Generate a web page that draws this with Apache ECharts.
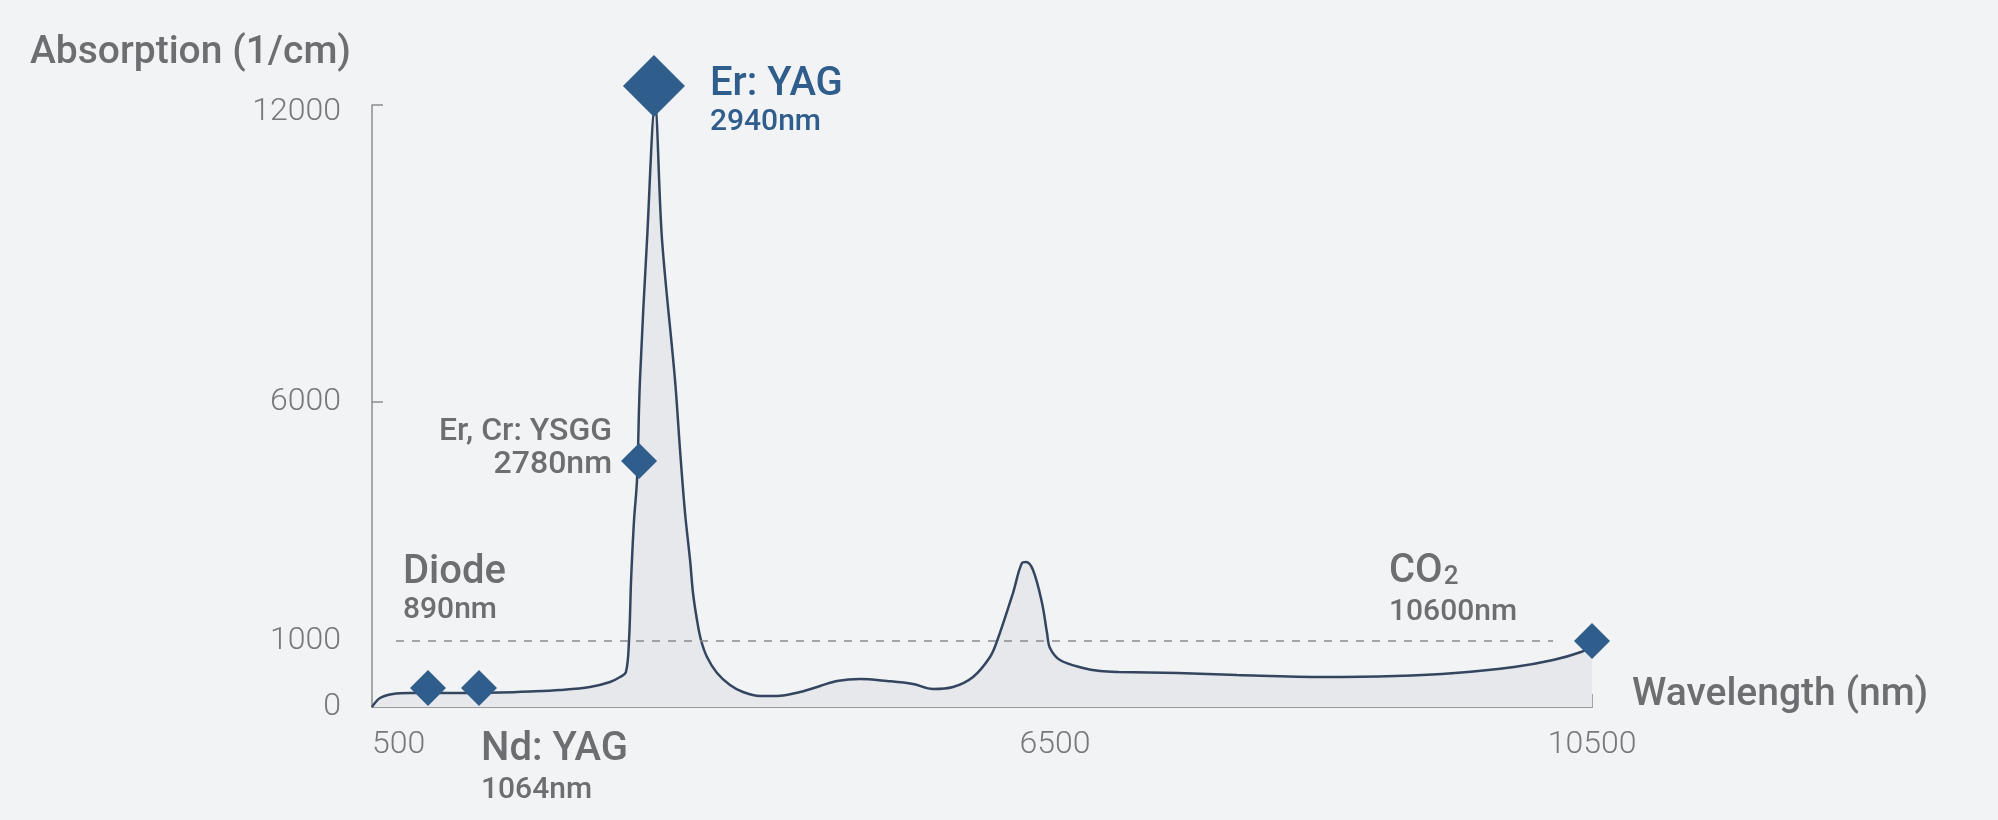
<!DOCTYPE html>
<html>
<head>
<meta charset="utf-8">
<script src="https://cdn.jsdelivr.net/npm/echarts@6/dist/echarts.min.js"></script>
<style>
html,body{margin:0;padding:0;background:#f2f3f5;}
#chart{width:1998px;height:820px;}
</style>
</head>
<body>
<div id="chart"></div>
<script>
// ---- data ----
const wavelengthNm = [500,570,684,834,1185,1624,1888,2152,2415,2591,2679,2731,2758,2776,2802,2828,2854,2916,2986,3048,3162,3206,3250,3294,3320,3355,3390,3443,3531,3645,3759,3909,4058,4260,4436,4585,4787,5024,5253,5428,5604,5780,5929,5991,6131,6210,6245,6307,6386,6430,6456,6537,6709,6835,6977,7416,7856,8504,9033,9480,9919,10210,10418,10500];
const absorption   = [0,136,197,212,212,220,235,258,303,379,455,530,1021,2276,3531,4368,6444,9273,12000,9273,6444,4996,3678,2695,2004,1439,1021,758,515,333,227,167,167,227,318,394,424,394,348,273,303,455,758,1000,2004,2632,2653,2485,1795,1167,894,712,591,545,530,515,485,455,470,515,606,712,833,924];

const laserNames   = ['Diode','Nd: YAG','Er, Cr: YSGG','Er: YAG','CO2'];
const laserWaves   = ['890nm','1064nm','2780nm','2940nm','10600nm'];
// marker positions as plotted in the (schematic) reference
const markerX      = [992,1440,2846,2977,10500];
const markerY      = [288,288,4766,12384,1000];

const xTicks = [500,6500,10500];
const yTicks = [0,1000,6000,12000];
const thresholdValue = 1000;
const thresholdFromNm = 711;
const thresholdToNm = 10210;

// ---- piecewise (broken) axis scales of the reference ----
function fx(nm){ return nm<=6500 ? (nm-500)/6000*683 : 683+(nm-6500)/4000*537; }
function fy(v){ if(v<=1000) return v/1000*66; if(v<=6000) return 66+(v-1000)/5000*239; return 305+(v-6000)/6000*297; }
function tickLabel(ticks,f,topRich){ return function(val){ for(const t of ticks){ if(Math.abs(f(t)-val)<0.5){ return (topRich && t===ticks[ticks.length-1]) ? '{top|'+t+'}' : String(t);} } return ''; }; }

const GRAY='#6d6e71', BLUE='#2f5d8c', TICKFONT='Roboto', FONT='Roboto';

const lineData = wavelengthNm.map((w,i)=>[fx(w),fy(absorption[i])]);

const labelCfg = [
  {pos:[-7,-117], align:'left', big:40, small:30, lh1:40, lh2:36, color:GRAY},
  {pos:[20,60], align:'left', big:40, small:30, lh1:40, lh2:42, color:GRAY},
  {pos:[-9,-27], align:'right', big:32, small:32, lh1:32, lh2:34, color:GRAY},
  {pos:[87,11], align:'left', big:40, small:30, lh1:38, lh2:38, color:BLUE},
  {pos:[-185,-71], align:'left', big:40, small:30, lh1:40, lh2:40, color:GRAY, co2:true}
];
const sizes = [36,36,36,62,36];

const scatterData = markerX.map((x,i)=>{
  const c = labelCfg[i];
  const title = c.co2 ? '{t|CO}{s|2}' : '{t|'+laserNames[i]+'}';
  return {
    value:[fx(x),fy(markerY[i])],
    symbolSize:sizes[i],
    label:{
      show:true, position:c.pos, align:c.align, verticalAlign:'top',
      formatter: title+'\n{b|'+laserWaves[i]+'}',
      rich:{
        t:{fontFamily:FONT,fontSize:c.big,fontWeight:500,color:c.color,lineHeight:c.lh1,align:c.align},
        s:{fontFamily:FONT,fontSize:26,fontWeight:500,color:c.color,lineHeight:c.lh1,padding:[10,0,0,1],align:c.align},
        b:{fontFamily:FONT,fontSize:c.small,fontWeight:500,color:c.color,lineHeight:c.lh2,align:c.align}
      }
    }
  };
});

const chart = echarts.init(document.getElementById('chart'));
chart.setOption({
  backgroundColor:'#f2f3f5',
  animation:false,
  grid:{left:372, top:105, width:1220, height:602, containLabel:false, outerBoundsMode:'none'},
  xAxis:{
    type:'value', min:0, max:fx(10500),
    name:'Wavelength (nm)', nameLocation:'end', nameGap:40,
    nameTextStyle:{fontFamily:FONT,fontSize:39,fontWeight:500,color:GRAY,align:'left',verticalAlign:'bottom',lineHeight:24},
    axisLine:{lineStyle:{color:'#9a9a9c',width:2}},
    axisTick:{show:true,inside:true,length:13,customValues:[fx(6500),fx(10500)],lineStyle:{color:'#8c8c8e',width:1.5}},
    axisLabel:{customValues:xTicks.map(fx),formatter:tickLabel(xTicks,fx,false),fontFamily:TICKFONT,fontWeight:300,fontSize:32,color:'#77787b',margin:22,alignMinLabel:'left'},
    splitLine:{show:false}
  },
  yAxis:{
    type:'value', min:0, max:fy(12000),
    name:'Absorption (1/cm)', nameLocation:'end', nameGap:52,
    nameTextStyle:{fontFamily:FONT,fontSize:39,fontWeight:500,color:GRAY,align:'right',verticalAlign:'middle',padding:[0,21,0,0]},
    axisLine:{show:true,lineStyle:{color:'#8c8c8e',width:1.5}},
    axisTick:{show:true,inside:true,length:11,customValues:[fy(6000),fy(12000)],lineStyle:{color:'#8c8c8e',width:1.5}},
    axisLabel:{customValues:yTicks.map(fy),formatter:tickLabel(yTicks,fy,true),fontFamily:TICKFONT,fontWeight:300,fontSize:32,color:'#77787b',margin:31,
      rich:{top:{fontFamily:TICKFONT,fontWeight:300,fontSize:32,color:'#77787b',padding:[14,0,0,0]}}},
    splitLine:{show:false}
  },
  series:[
    {
      type:'line', data:lineData, smooth:0.35, showSymbol:false,
      lineStyle:{color:'#34465f',width:2.5},
      areaStyle:{color:'#e7e8ec',opacity:1},
      markLine:{
        silent:true, symbol:['none','none'], label:{show:false},
        lineStyle:{color:'#8a8b8e',type:[8,8],width:1.5},
        data:[[{coord:[fx(thresholdFromNm),fy(thresholdValue)]},{coord:[fx(thresholdToNm),fy(thresholdValue)]}]]
      },
      z:2
    },
    {
      type:'scatter', data:scatterData, symbol:'diamond', clip:false,
      itemStyle:{color:BLUE,opacity:1}, z:5
    }
  ]
});
</script>
</body>
</html>
